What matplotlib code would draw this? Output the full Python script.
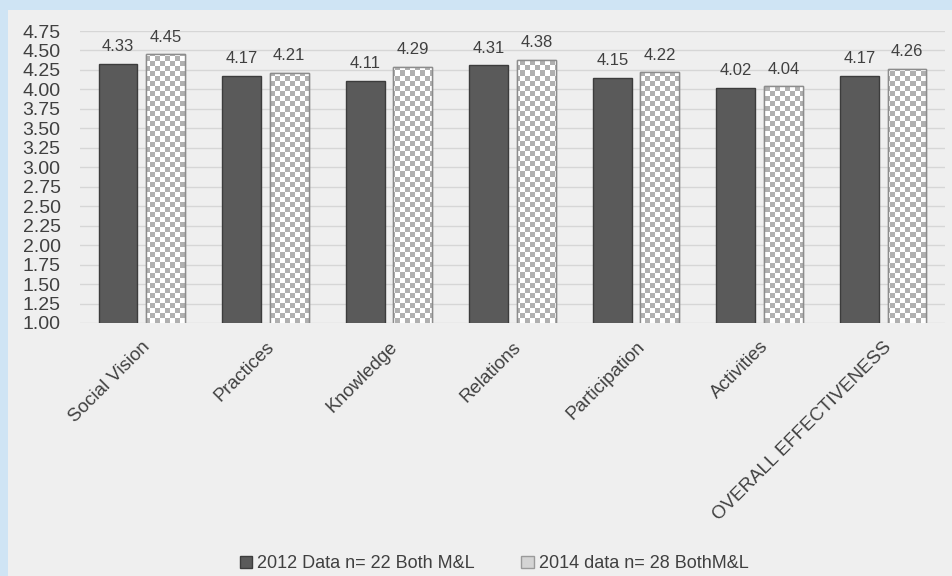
import numpy as np
import matplotlib.pyplot as plt
from matplotlib.patches import Rectangle, Patch

# Dados do gráfico
categorias = ['Social Vision', 'Practices', 'Knowledge', 'Relations',
              'Participation', 'Activities', 'OVERALL EFFECTIVENESS']
dados_2012 = [4.33, 4.17, 4.11, 4.31, 4.15, 4.02, 4.17]
dados_2014 = [4.45, 4.21, 4.29, 4.38, 4.22, 4.04, 4.26]
rotulos_y = ['1.00', '1.25', '1.50', '1.75', '2.00', '2.25', '2.50', '2.75',
             '3.00', '3.25', '3.50', '3.75', '4.00', '4.25', '4.50', '4.75']
legenda = ['2012 Data n= 22 Both M&L', '2014 data n= 28 BothM&L']

plt.rcParams['font.family'] = ['Liberation Sans', 'DejaVu Sans']
cor_texto = '#404040'

W, H = 953, 576
fig = plt.figure(figsize=(W / 100, H / 100), dpi=100, facecolor='#cfe4f4')
# painel cinza interno
fig.add_artist(Rectangle((8 / W, 0), 1, 1 - 10 / H, transform=fig.transFigure,
                         facecolor='#efefef', edgecolor='none', zorder=-5))

ax = fig.add_axes([80 / W, 1 - 323 / H, 865 / W, 292 / H])
ax.set_zorder(2)
ax.set_facecolor('#efefef')

x = np.arange(len(categorias))
largura = 0.315
sep = 0.035

b1 = ax.bar(x - largura / 2 - sep, dados_2012, largura, color='#5a5a5a',
            edgecolor='#3c3c3c', linewidth=1, zorder=3)
b2 = ax.bar(x + largura / 2 + sep, dados_2014, largura, color='#f8f8f8',
            edgecolor='#9a9a9a', linewidth=1, zorder=3)

ax.set_xlim(-0.5, len(categorias) - 0.5)
ax.set_ylim(1.0, 4.75)

# padrão xadrez dentro das barras de 2014
nx, ny = 865 // 5, 292 // 5
xadrez = (np.add.outer(np.arange(ny), np.arange(nx)) % 2).astype(float)
for barra in b2:
    img = ax.imshow(xadrez, cmap='gray', vmin=-2.2, vmax=1.0, aspect='auto',
                    extent=(-0.5, len(categorias) - 0.5, 1.0, 4.75),
                    interpolation='nearest', zorder=3.5)
    img.set_clip_path(barra)
# contorno por cima do xadrez
for barra in b2:
    ax.add_patch(Rectangle(barra.get_xy(), barra.get_width(), barra.get_height(),
                           facecolor='none', edgecolor='#8c8c8c', lw=1, zorder=4))
ax.set_xlim(-0.5, len(categorias) - 0.5)
ax.set_ylim(1.0, 4.75)

for barras, vals in [(b1, dados_2012), (b2, dados_2014)]:
    for barra, v in zip(barras, vals):
        ax.annotate(f'{v:.2f}', (barra.get_x() + barra.get_width() / 2, v),
                    xytext=(0, 7), textcoords='offset points', ha='center',
                    va='bottom', fontsize=12, color=cor_texto, zorder=5)

ax.set_yticks(np.arange(1.0, 4.76, 0.25))
ax.set_yticklabels(rotulos_y, fontsize=14, color=cor_texto)
ax.set_xticks(x)
ax.set_xticklabels(categorias, rotation=45, ha='right', rotation_mode='anchor',
                   fontsize=13.5, color=cor_texto)
ax.tick_params(axis='y', length=0, pad=14)
ax.tick_params(axis='x', length=0, pad=11)
ax.grid(axis='y', color='#d6d6d6', linewidth=1, zorder=0)
ax.set_axisbelow(True)
for s in ax.spines.values():
    s.set_visible(False)

handles = [Patch(facecolor='#5a5a5a', edgecolor='#3c3c3c'),
           Patch(facecolor='#d4d4d4', edgecolor='#9a9a9a')]
fig.legend(handles, legenda, loc='lower center', bbox_to_anchor=(494 / W, -0.022),
           ncol=2, frameon=False, fontsize=13, handlelength=0.7, handleheight=0.7,
           handletextpad=0.25, columnspacing=2.6, labelcolor=cor_texto)

fig.savefig('out.png', dpi=100, facecolor=fig.get_facecolor())
